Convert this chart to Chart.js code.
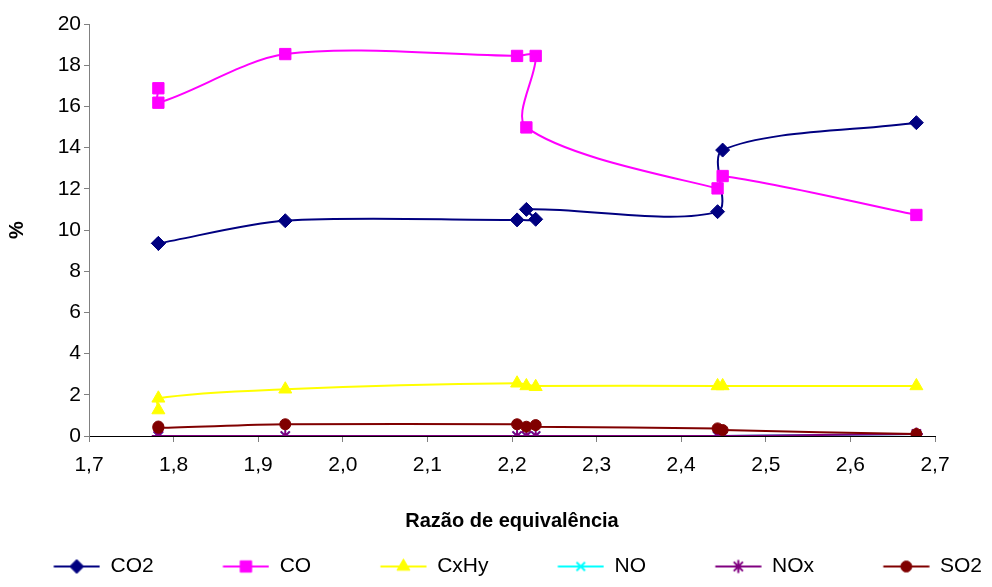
<!DOCTYPE html>
<html>
<head>
<meta charset="utf-8">
<script src="https://cdn.jsdelivr.net/npm/chart.js@4.4.1/dist/chart.umd.min.js"></script>
<style>
  html, body { margin: 0; padding: 0; background: #fff; }
  #wrap { width: 992px; height: 587px; }
</style>
</head>
<body>
<div id="wrap"><canvas id="cvs" width="992" height="587"></canvas></div>
<script>
// equivalence ratio of each run (same order for every gas)
const ratio = [1.782, 1.782, 1.932, 2.206, 2.228, 2.217, 2.443, 2.449, 2.678];
const co2  = [9.35, 9.35, 10.45, 10.49, 10.52, 11.0, 10.89, 13.88, 15.21];
const co   = [16.88, 16.18, 18.54, 18.45, 18.45, 14.98, 12.02, 12.62, 10.73];
const cxhy = [1.26, 1.83, 2.27, 2.56, 2.39, 2.43, 2.43, 2.43, 2.43];
const no   = [0, 0, 0, 0, 0, 0, 0, 0, 0.1];
const nox  = [0, 0, 0, 0, 0, 0, 0, 0, 0.1];
const so2  = [0.46, 0.4, 0.57, 0.57, 0.53, 0.45, 0.37, 0.29, 0.1];

const names = ['CO2', 'CO', 'CxHy', 'NO', 'NOx', 'SO2'];
const series = [co2, co, cxhy, no, nox, so2];
const yTicks = [0, 2, 4, 6, 8, 10, 12, 14, 16, 18, 20];

const colors  = ['#000080', '#ff00ff', '#ffff00', '#00ffff', '#800080', '#800000'];
const markers = ['rectRot', 'rect', 'triangle', 'crossRot', 'star', 'circle'];
const radii   = [7, 8, 7.5, 6, 6.5, 5.5];
const borders = [1, 1, 1, 2, 2, 1];

const FONT = "'Liberation Sans', Arial, sans-serif";
Chart.defaults.font.family = FONT;
Chart.defaults.color = '#000';

// the page is laid out slightly wider than the canvas so the legend row fits
const SHIFT_L = 15.5, SHIFT_R = 20;

// legend sample: transparent gap, then line with marker in the middle
const GAP = 53.5, SAMPLE = 46;
function makeIcon(i) {
    const c = document.createElement('canvas');
    c.width = Math.ceil(GAP + SAMPLE); c.height = 20;
    const g = c.getContext('2d');
    g.strokeStyle = colors[i];
    g.fillStyle = colors[i];
    g.lineWidth = 2;
    g.beginPath(); g.moveTo(GAP, 10); g.lineTo(GAP + SAMPLE, 10); g.stroke();
    g.lineWidth = borders[i];
    Chart.helpers.drawPoint(g, {pointStyle: markers[i], radius: radii[i], borderWidth: borders[i], rotation: 0}, GAP + SAMPLE / 2, 10);
    return c;
}
const icons = names.map((n, i) => makeIcon(i));

const datasets = names.map((name, i) => ({
    label: name,
    data: ratio.map((x, k) => ({x: x, y: series[i][k]})),
    showLine: true,
    tension: 0.3,
    borderColor: colors[i],
    borderWidth: 2,
    backgroundColor: colors[i],
    pointStyle: markers[i],
    pointRadius: radii[i],
    pointHoverRadius: radii[i],
    pointBackgroundColor: colors[i],
    pointBorderColor: colors[i],
    pointBorderWidth: borders[i],
    order: names.length - i
}));

const chart = new Chart(document.getElementById('cvs'), {
    type: 'scatter',
    data: {datasets: datasets},
    options: {
        responsive: false,
        animation: false,
        layout: {padding: {top: 24, left: -SHIFT_L, right: -SHIFT_R, bottom: 0}},
        plugins: {
            tooltip: {enabled: false},
            legend: {
                position: 'bottom',
                align: 'start',
                labels: {
                    usePointStyle: true,
                    pointStyleWidth: GAP + SAMPLE,
                    padding: 16,
                    font: {size: 21, family: FONT},
                    color: '#000',
                    sort: (a, b) => a.datasetIndex - b.datasetIndex,
                    generateLabels: function(chart) {
                        const items = Chart.defaults.plugins.legend.labels.generateLabels(chart);
                        items.forEach(it => { it.pointStyle = icons[it.datasetIndex]; });
                        return items;
                    }
                }
            }
        },
        scales: {
            x: {
                type: 'linear',
                min: 1.7,
                max: 2.7,
                afterFit: s => { s.height = 104; },
                ticks: {
                    stepSize: 0.1,
                    autoSkip: false,
                    maxRotation: 0,
                    padding: 11,
                    font: {size: 21},
                    color: '#000',
                    callback: v => v.toFixed(1).replace('.', ',')
                },
                grid: {drawOnChartArea: false, tickLength: 6, color: '#808080', tickColor: '#808080'},
                border: {color: '#000', width: 1},
                title: {
                    display: true,
                    text: 'Razão de equivalência',
                    font: {size: 20, weight: 'bold'},
                    color: '#000',
                    padding: {top: 0, bottom: 7}
                }
            },
            y: {
                min: 0,
                max: 20,
                afterFit: s => { s.width = 89 + SHIFT_L; },
                afterBuildTicks: s => { s.ticks = yTicks.map(v => ({value: v})); },
                ticks: {padding: 3, font: {size: 21}, color: '#000'},
                grid: {drawOnChartArea: false, tickLength: 5, color: '#808080', tickColor: '#808080'},
                border: {color: '#808080', width: 1},
                title: {
                    display: true,
                    text: '%',
                    font: {size: 20, weight: 'bold'},
                    color: '#000',
                    padding: {top: 20.5, bottom: 0}
                }
            },
            // empty right-hand box that keeps the plot clear of the right edge
            side: {
                position: 'right',
                display: true,
                afterFit: s => { s.width = 57 + SHIFT_R; },
                ticks: {display: false},
                grid: {display: false},
                border: {display: false}
            }
        }
    }
});
</script>
</body>
</html>
